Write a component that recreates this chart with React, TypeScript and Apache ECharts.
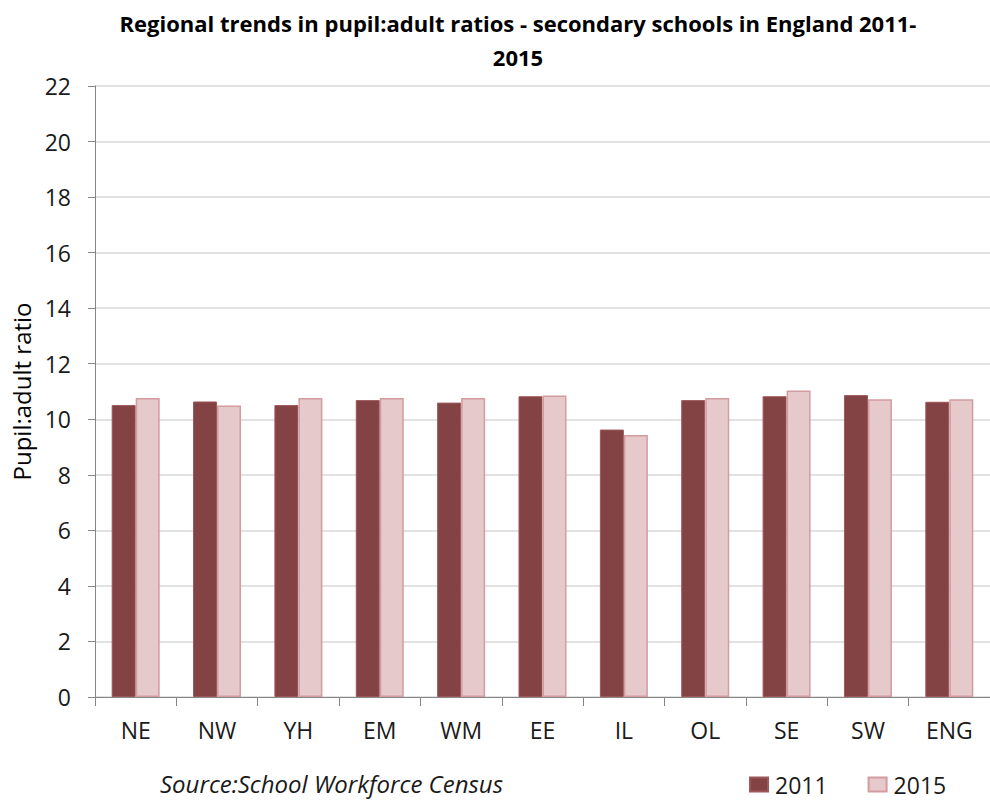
import React, { useEffect, useRef } from "react";
import * as echarts from "echarts";

const categories = ["NE", "NW", "YH", "EM", "WM", "EE", "IL", "OL", "SE", "SW", "ENG"];
const series2011 = [10.51, 10.64, 10.51, 10.69, 10.6, 10.83, 9.63, 10.69, 10.83, 10.87, 10.63];
const series2015 = [10.77, 10.5, 10.77, 10.77, 10.77, 10.86, 9.43, 10.77, 11.04, 10.72, 10.72];
const seriesNames = ["2011", "2015"];
const titleText = "Regional trends in pupil:adult ratios - secondary schools in England 2011-\n2015";
const yAxisName = "Pupil:adult ratio";
const sourceText = "Source:School Workforce Census";

const FONT = "'Open Sans', 'Noto Sans', sans-serif";
const TXT = "#1a1a1a";

export default function App() {
  const ref = useRef<HTMLDivElement>(null);
  useEffect(() => {
    document.body.style.margin = "0";
    if (!ref.current) return;
    const chart = echarts.init(ref.current, undefined, { renderer: "svg" });
    chart.setOption({
      animation: false,
      backgroundColor: "#ffffff",
      textStyle: { fontFamily: FONT },
      title: {
        text: titleText,
        left: 513,
        textAlign: "center",
        top: 1,
        textStyle: {
          fontFamily: FONT,
          fontSize: 22,
          fontWeight: "bold",
          color: "#000000",
          lineHeight: 34,
        },
      },
      legend: {
        data: seriesNames,
        left: 744,
        top: 768,
        icon: "rect",
        itemWidth: 18,
        itemHeight: 14,
        itemGap: 40,
        textStyle: { fontFamily: FONT, fontSize: 23, color: TXT, padding: [0, 0, 0, 2] },
      },
      grid: { left: 95, top: 86, width: 902, bottom: 105, containLabel: false },
      xAxis: {
        type: "category",
        data: categories,
        axisLine: { lineStyle: { color: "#868686", width: 1 } },
        axisTick: { show: true, length: 9, lineStyle: { color: "#868686" } },
        axisLabel: { fontFamily: FONT, fontSize: 23, color: TXT, margin: 21 },
      },
      yAxis: {
        type: "value",
        min: 0,
        max: 22,
        interval: 2,
        name: yAxisName,
        nameLocation: "middle",
        nameGap: 60,
        nameTextStyle: { fontFamily: FONT, fontSize: 24, color: "#000000" },
        axisLine: { show: true, lineStyle: { color: "#868686", width: 1 } },
        axisTick: { show: true, length: 7, lineStyle: { color: "#868686" } },
        axisLabel: { fontFamily: FONT, fontSize: 23, color: TXT, margin: 24 },
        splitLine: { lineStyle: { color: "#D9D9D9", width: 1.5 } },
      },
      series: [
        {
          name: seriesNames[0],
          type: "bar",
          data: series2011,
          barWidth: 24,
          barGap: "0%",
          itemStyle: { color: "#834345", borderColor: "#9E5759", borderWidth: 1 },
        },
        {
          name: seriesNames[1],
          type: "bar",
          data: series2015,
          barWidth: 24,
          barGap: "0%",
          itemStyle: { color: "#E6C9CA", borderColor: "#D39C9E", borderWidth: 1.5 },
        },
      ],
      graphic: [
        {
          type: "text",
          left: 160,
          top: 771,
          style: {
            text: sourceText,
            fontFamily: FONT,
            fontSize: 24,
            fontStyle: "italic",
            fill: TXT,
          },
        },
      ],
    });
    return () => chart.dispose();
  }, []);
  return <div ref={ref} style={{ width: 990, height: 802 }} />;
}
